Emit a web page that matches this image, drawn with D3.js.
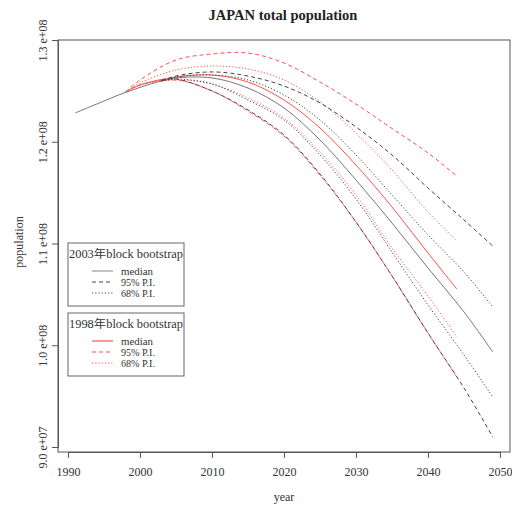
<!DOCTYPE html>
<html>
<head>
<meta charset="utf-8" />
<title>JAPAN total population</title>
<style>
  body { margin: 0; background: #fff; }
</style>
</head>
<body>
<div id="chart"></div>
<script src="https://d3js.org/d3.v7.min.js"></script>
<script>
// population in millions
const obsYears = [1991, 1993, 1995, 1997, 1999, 2001, 2003];
const observed = [122.83, 123.42, 124.00, 124.59, 125.09, 125.58, 125.97];

const blackYears = [2003, 2005, 2010, 2015, 2020, 2025, 2030, 2035, 2040, 2045, 2049];
const blackMedian = [125.97, 126.27, 126.27, 125.28, 123.32, 120.17, 116.24, 112.01, 107.59, 103.27, 99.34];
const blackUp95   = [125.97, 126.46, 126.86, 126.46, 125.48, 123.81, 121.45, 118.70, 115.45, 112.31, 109.75];
const blackUp68   = [125.97, 126.36, 126.56, 126.07, 124.59, 122.14, 118.70, 114.77, 110.84, 107.20, 103.76];
const blackLo68   = [125.97, 126.17, 125.68, 124.10, 122.14, 118.70, 114.37, 109.16, 103.96, 99.04, 94.91];
const blackLo95   = [126.07, 126.17, 124.99, 123.12, 120.66, 116.83, 112.11, 106.81, 101.20, 95.80, 90.98];

const redYears = [1998, 2000, 2005, 2010, 2015, 2020, 2025, 2030, 2035, 2040, 2044];
const redMedian = [124.89, 125.58, 126.36, 126.56, 125.87, 124.10, 121.35, 117.71, 113.59, 109.07, 105.53];
const redUp95   = [124.89, 126.07, 128.03, 128.62, 128.72, 127.74, 125.87, 123.70, 121.30, 118.90, 116.63];
const redUp68   = [124.89, 125.77, 127.05, 127.44, 127.15, 126.07, 123.91, 120.86, 117.22, 113.10, 110.25];
const redLo68   = [124.89, 125.58, 126.07, 125.68, 124.30, 122.33, 118.99, 114.77, 109.56, 104.84, 100.81];
const redLo95   = [124.89, 125.58, 126.07, 124.99, 123.02, 120.56, 116.73, 112.11, 106.81, 101.20, 96.88];

const xTicks = [1990, 2000, 2010, 2020, 2030, 2040, 2050];
const yTicks = [9.0e7, 1.0e8, 1.1e8, 1.2e8, 1.3e8];
const yTickLabels = ["9.0 e+07", "1.0 e+08", "1.1 e+08", "1.2 e+08", "1.3 e+08"];

const width = 512, height = 506;
const box = {left: 58, right: 510, top: 40, bottom: 452};
const serif = "Liberation Serif, 'Noto Sans CJK JP', serif";

const svg = d3.select("#chart").append("svg")
  .attr("width", width)
  .attr("height", height)
  .attr("font-family", serif);

const x = d3.scaleLinear().domain([1990, 2050]).range([68, 500]);
const y = d3.scaleLinear().domain([9.0e7, 1.3e8]).range([447, 40]);

const grey = "#777";
const dark = "#444";
const red = "#ff5050";
const styles = {
  median: {dash: null, w: 1},
  p95: {dash: "4,3", w: 1},
  p68: {dash: "1.2,2", w: 1}
};

const line = d3.line()
  .x(d => x(d[0]))
  .y(d => y(d[1] * 1e6))
  .curve(d3.curveCatmullRom.alpha(0.5));

const zip = (xs, vs) => xs.map((v, i) => [v, vs[i]]);

const series = [
  {yrs: redYears, vals: redUp95, col: red, st: "p95"},
  {yrs: redYears, vals: redUp68, col: red, st: "p68"},
  {yrs: redYears, vals: redMedian, col: red, st: "median"},
  {yrs: redYears, vals: redLo68, col: red, st: "p68"},
  {yrs: redYears, vals: redLo95, col: red, st: "p95"},
  {yrs: obsYears, vals: observed, col: grey, st: "median"},
  {yrs: blackYears, vals: blackMedian, col: grey, st: "median"},
  {yrs: blackYears, vals: blackUp95, col: dark, st: "p95"},
  {yrs: blackYears, vals: blackUp68, col: dark, st: "p68"},
  {yrs: blackYears, vals: blackLo68, col: dark, st: "p68"},
  {yrs: blackYears, vals: blackLo95, col: dark, st: "p95"}
];

svg.selectAll("path.series")
  .data(series)
  .enter()
  .append("path")
  .attr("class", "series")
  .attr("d", d => line(zip(d.yrs, d.vals)))
  .attr("fill", "none")
  .attr("stroke", d => d.col)
  .attr("stroke-width", d => styles[d.st].w)
  .attr("stroke-dasharray", d => styles[d.st].dash);

// plot box
svg.append("rect")
  .attr("x", box.left).attr("y", box.top)
  .attr("width", box.right - box.left).attr("height", box.bottom - box.top)
  .attr("fill", "none").attr("stroke", "#555").attr("stroke-width", 1);

// x axis
const xAxis = svg.append("g").attr("transform", `translate(0,${box.bottom})`)
  .call(d3.axisBottom(x).tickValues(xTicks).tickFormat(d3.format("d")).tickSize(6).tickPadding(9));
xAxis.attr("font-family", serif).attr("font-size", 12);
xAxis.select(".domain").attr("stroke", "#555");
xAxis.selectAll(".tick line").attr("stroke", "#555");
xAxis.selectAll("text").attr("fill", "#333");

// y axis
const yAxis = svg.append("g").attr("transform", `translate(${box.left},0)`)
  .call(d3.axisLeft(y).tickValues(yTicks).tickFormat((d, i) => yTickLabels[i]).tickSize(6));
yAxis.attr("font-family", serif).attr("font-size", 12);
yAxis.select(".domain").attr("stroke", "#555");
yAxis.selectAll(".tick line").attr("stroke", "#555");
yAxis.selectAll("text")
  .attr("fill", "#333")
  .attr("text-anchor", "middle")
  .attr("x", 0).attr("dy", 0)
  .attr("transform", "translate(-11,0) rotate(-90)");

// titles
svg.append("text")
  .attr("x", 283).attr("y", 20)
  .attr("text-anchor", "middle")
  .attr("font-size", 14.5).attr("font-weight", "bold").attr("fill", "#222")
  .text("JAPAN total population");

svg.append("text")
  .attr("x", 284).attr("y", 501)
  .attr("text-anchor", "middle")
  .attr("font-size", 12).attr("fill", "#333")
  .text("year");

svg.append("text")
  .attr("transform", "translate(23,242) rotate(-90)")
  .attr("text-anchor", "middle")
  .attr("font-size", 12).attr("fill", "#333")
  .text("population");

// legends
const legends = [
  {title: "2003年block bootstrap", top: 243, cols: ["#999", dark, dark]},
  {title: "1998年block bootstrap", top: 313, cols: [red, red, red]}
];
const legendRows = ["median", "95% P.I.", "68% P.I."];
const legendStyles = ["median", "p95", "p68"];

legends.forEach(lg => {
  const g = svg.append("g");
  g.append("rect")
    .attr("x", 68).attr("y", lg.top)
    .attr("width", 116).attr("height", 63)
    .attr("fill", "#fff").attr("stroke", "#666").attr("stroke-width", 1);
  g.append("text")
    .attr("x", 69).attr("y", lg.top + 15)
    .attr("font-size", 11.5).attr("fill", "#333")
    .attr("textLength", 114).attr("lengthAdjust", "spacingAndGlyphs")
    .text(lg.title);
  legendRows.forEach((r, i) => {
    const yy = lg.top + 28 + i * 11;
    g.append("line")
      .attr("x1", 92).attr("x2", 113).attr("y1", yy).attr("y2", yy)
      .attr("stroke", lg.cols[i])
      .attr("stroke-width", 1.2)
      .attr("stroke-dasharray", styles[legendStyles[i]].dash);
    g.append("text")
      .attr("x", 121).attr("y", yy + 3.5)
      .attr("font-size", 9.5).attr("fill", "#333")
      .attr("textLength", r === "median" ? 32 : 34).attr("lengthAdjust", "spacingAndGlyphs")
      .text(r);
  });
});
</script>
</body>
</html>
